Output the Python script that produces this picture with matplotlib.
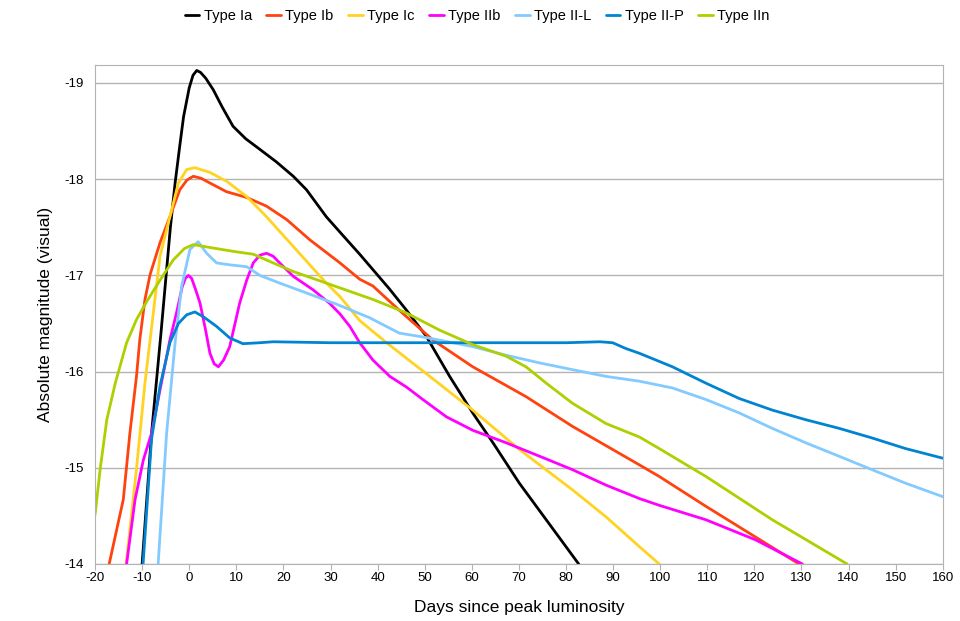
import matplotlib.pyplot as plt

plt.rcParams['font.family'] = ['Liberation Sans', 'DejaVu Sans']
plt.rcParams['axes.unicode_minus'] = False

# Light curves (days since peak, absolute visual magnitude)
ia_days = [-10.0, -8.0, -6.0, -5.0, -4.0, -3.0, -2.0, -1.2, 0.0, 0.8, 1.6, 2.4, 3.5, 5.1, 7.0,
           9.3, 12.0, 15.0, 18.5, 22.1, 24.9, 29.1, 32.0, 36.2, 39.0, 42.5, 46.1, 50.3, 55.3,
           60.2, 64.5, 70.1, 75.8, 82.7]
ia_mag = [-14.0, -15.36, -16.4, -16.95, -17.5, -17.96, -18.35, -18.65, -18.95, -19.08, -19.13,
          -19.11, -19.05, -18.93, -18.75, -18.55, -18.42, -18.31, -18.18, -18.03, -17.89, -17.61,
          -17.45, -17.22, -17.06, -16.86, -16.64, -16.37, -15.95, -15.57, -15.26, -14.84,
          -14.46, -14.0]

ib_days = [-17.0, -14.0, -12.6, -11.2, -10.5, -9.4, -8.3, -6.2, -4.1, -2.0, -0.5, 0.85, 2.5, 4.4,
           7.9, 12.2, 16.4, 20.7, 25.6, 32.0, 36.2, 39.0, 45.0, 51.7, 60.2, 71.5, 81.4, 95.6,
           99.8, 109.7, 129.5]
ib_mag = [-14.0, -14.67, -15.36, -15.95, -16.33, -16.75, -17.01, -17.34, -17.61, -17.89, -17.99,
          -18.03, -18.01, -17.96, -17.87, -17.81, -17.72, -17.58, -17.37, -17.13, -16.96, -16.89,
          -16.62, -16.33, -16.05, -15.74, -15.43, -15.03, -14.91, -14.6, -14.0]

ic_days = [-13.4, -11.2, -9.4, -7.6, -6.2, -4.1, -2.3, -0.55, 1.2, 4.4, 7.9, 12.2, 16.4, 22.1,
           29.1, 32.0, 36.2, 41.9, 50.3, 60.2, 70.1, 81.4, 88.5, 95.6, 99.8]
ic_mag = [-14.0, -14.99, -15.88, -16.62, -17.2, -17.61, -17.96, -18.1, -18.12, -18.07, -17.98,
          -17.82, -17.61, -17.3, -16.92, -16.78, -16.53, -16.3, -15.98, -15.6, -15.19, -14.77,
          -14.49, -14.18, -14.0]

iib_days = [-13.3, -11.5, -9.75, -8.0, -6.2, -4.1, -2.7, -1.5, -0.8, -0.2, 0.5, 1.3, 2.3, 3.4,
            4.4, 5.3, 6.2, 7.3, 8.6, 10.7, 12.2, 13.6, 15.0, 16.4, 17.8, 19.2, 22.1, 26.3, 29.8,
            32.0, 34.1, 36.2, 39.0, 42.6, 46.1, 49.6, 54.6, 60.2, 67.3, 74.4, 81.4, 88.5, 95.6,
            99.8, 109.7, 120.3, 130.2]
iib_mag = [-14.0, -14.67, -15.08, -15.36, -15.81, -16.33, -16.61, -16.88, -16.97, -17.0, -16.97,
           -16.86, -16.71, -16.45, -16.19, -16.08, -16.05, -16.12, -16.26, -16.71, -16.95, -17.13,
           -17.21, -17.23, -17.2, -17.13, -16.99, -16.85, -16.71, -16.6, -16.47, -16.3, -16.12,
           -15.95, -15.84, -15.71, -15.53, -15.39, -15.26, -15.12, -14.98, -14.82, -14.68,
           -14.61, -14.46, -14.25, -14.0]

iil_days = [-6.6, -4.8, -3.0, -1.6, 0.15, 1.9, 3.7, 5.8, 8.6, 12.2, 15.0, 19.2, 24.2, 31.3, 38.3,
            44.6, 49.6, 60.2, 67.3, 74.4, 81.4, 88.5, 95.6, 102.6, 109.7, 116.8, 123.8, 130.9,
            138.0, 145.0, 152.1, 160.0]
iil_mag = [-14.0, -15.36, -16.3, -16.89, -17.27, -17.35, -17.23, -17.13, -17.11, -17.09, -17.0,
           -16.92, -16.83, -16.7, -16.56, -16.4, -16.36, -16.26, -16.17, -16.09, -16.02, -15.95,
           -15.9, -15.83, -15.71, -15.57, -15.41, -15.26, -15.12, -14.98, -14.84, -14.7]

iip_days = [-9.8, -8.0, -6.2, -4.1, -2.3, -0.55, 1.2, 3.0, 5.8, 8.6, 11.4, 15.0, 17.8, 30.0,
            45.0, 60.0, 70.0, 80.0, 87.2, 89.9, 92.7, 95.6, 102.6, 109.7, 116.8, 123.8, 130.9,
            138.0, 145.0, 152.1, 160.0]
iip_mag = [-14.0, -15.3, -15.85, -16.3, -16.5, -16.59, -16.62, -16.57, -16.47, -16.35, -16.29,
           -16.3, -16.31, -16.3, -16.3, -16.3, -16.3, -16.3, -16.31, -16.3, -16.24, -16.19,
           -16.05, -15.88, -15.72, -15.6, -15.5, -15.41, -15.31, -15.2, -15.1]

iin_days = [-20.0, -18.9, -17.5, -15.7, -13.3, -11.2, -9.0, -6.2, -3.4, -1.0, 0.85, 4.4, 9.3,
            13.6, 17.8, 22.1, 29.1, 32.0, 39.0, 46.1, 53.2, 60.2, 67.3, 71.5, 75.8, 81.4, 88.5,
            95.6, 99.8, 109.7, 123.8, 139.7]
iin_mag = [-14.51, -14.99, -15.5, -15.88, -16.3, -16.54, -16.73, -16.95, -17.16, -17.28, -17.32,
           -17.29, -17.25, -17.22, -17.13, -17.04, -16.92, -16.87, -16.75, -16.61, -16.43, -16.28,
           -16.16, -16.05, -15.88, -15.67, -15.46, -15.32, -15.2, -14.91, -14.46, -14.0]

series = [
    ('Type Ia', ia_days, ia_mag, '#000000'),
    ('Type Ib', ib_days, ib_mag, '#ff420e'),
    ('Type Ic', ic_days, ic_mag, '#ffd320'),
    ('Type IIb', iib_days, iib_mag, '#ff00ff'),
    ('Type II-L', iil_days, iil_mag, '#83caff'),
    ('Type II-P', iip_days, iip_mag, '#0084d1'),
    ('Type IIn', iin_days, iin_mag, '#aecf00'),
]

fig = plt.figure(figsize=(9.6, 6.21), dpi=100)
ax = fig.add_axes([0.099, 0.0918, 0.883, 0.804])

for name, days, mag, color in series:
    ax.plot(days, mag, color=color, linewidth=2.0, label=name,
            solid_joinstyle='round', solid_capstyle='round')

ax.set_xlim(-20, 160)
ax.set_ylim(-14, -19.19)
ax.set_xticks(range(-20, 161, 10))
ax.set_yticks([-19, -18, -17, -16, -15, -14])
ax.grid(axis='y', color='#b3b3b3', linewidth=1.0)
ax.set_axisbelow(True)
for spine in ax.spines.values():
    spine.set_color('#b3b3b3')
ax.tick_params(axis='x', colors='#b3b3b3', length=4, labelcolor='black', labelsize=9.5, pad=2)
ax.tick_params(axis='y', length=0, labelcolor='black', labelsize=9.5, pad=8)

ax.set_xlabel('Days since peak luminosity', fontsize=12.5, labelpad=11)
ax.set_ylabel('Absolute magnitude (visual)', fontsize=12.5, labelpad=8)

fig.legend(loc='center', bbox_to_anchor=(0.497, 0.974), ncol=7, frameon=False,
           fontsize=10.5, handlelength=1.0, handletextpad=0.3, columnspacing=1.0)

plt.savefig('out.png', dpi=100)
